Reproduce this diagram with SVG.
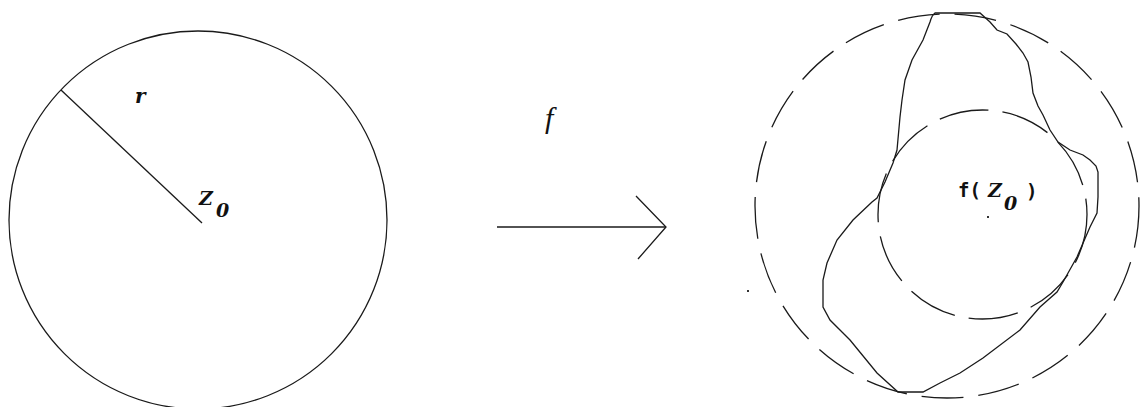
<svg xmlns="http://www.w3.org/2000/svg" width="1144" height="407" viewBox="0 0 1144 407">
<style>
.ln{fill:none;stroke:#1a1a1a;stroke-width:1.3}
.d1{stroke-dasharray:42 15}
.d2{stroke-dasharray:50 14}
.bi{font-family:"DejaVu Serif","Liberation Serif",serif;font-weight:bold;font-style:italic;fill:#111}
.it{font-family:"Liberation Serif","DejaVu Serif",serif;font-style:italic;fill:#111}
.mono{font-family:"DejaVu Sans Mono","Liberation Mono",monospace;font-weight:bold;fill:#111}
</style>
<rect width="1144" height="407" fill="#fff"/>
<g id="domain">
<circle class="ln" cx="198" cy="220" r="189"/>
<line class="ln" x1="61" y1="90" x2="202" y2="223"/>
<text class="bi" x="135" y="103" font-size="20">r</text>
<text class="bi" x="199" y="205" font-size="19">Z</text>
<text class="bi" x="216" y="217" font-size="19">0</text>
</g>
<g id="connectors">
<line class="ln" x1="497" y1="227" x2="666" y2="227"/>
<polyline class="ln" points="636,196 666,227 638,259"/>
<text class="it" x="545" y="128" font-size="30">f</text>
</g>
<g id="image">
<circle class="ln d1" cx="947" cy="206" r="192"/>
<circle class="ln d2" cx="982.5" cy="214.5" r="104.5"/>
<path class="ln" d="M935,13 L980,13 L990,22 L997,30 L1007,34 L1016,44 L1023,53 L1028,62 L1031,77 L1033,93 L1038,106 L1043,115 L1050,130 L1058,142 L1070,150 L1083,155 L1090,160 L1096,166 L1098,172 L1098,197 L1097,213 L1090,227 L1077,257 L1063,282 L1057,292 L1040,307 L1020,330 L983,358 L960,373 L940,383 L923,392 L898,392 L877,373 L850,340 L830,320 L823,307 L823,280 L827,263 L837,240 L853,220 L872,202 L877,198 L885,182 L893,163 L897,150 L900,117 L902,100 L905,80 L912,60 L923,40 L930,22 Q932,15 935,13 Z"/>
<text class="mono" x="958" y="197" font-size="19">f(</text>
<text class="bi" x="988" y="197" font-size="19">Z</text>
<text class="bi" x="1004" y="210" font-size="19">0</text>
<text class="mono" x="1026" y="198" font-size="19">)</text>
<rect x="987" y="216" width="2" height="2" fill="#333"/>
<rect x="747" y="290" width="2" height="2" fill="#333"/>
</g>
</svg>
